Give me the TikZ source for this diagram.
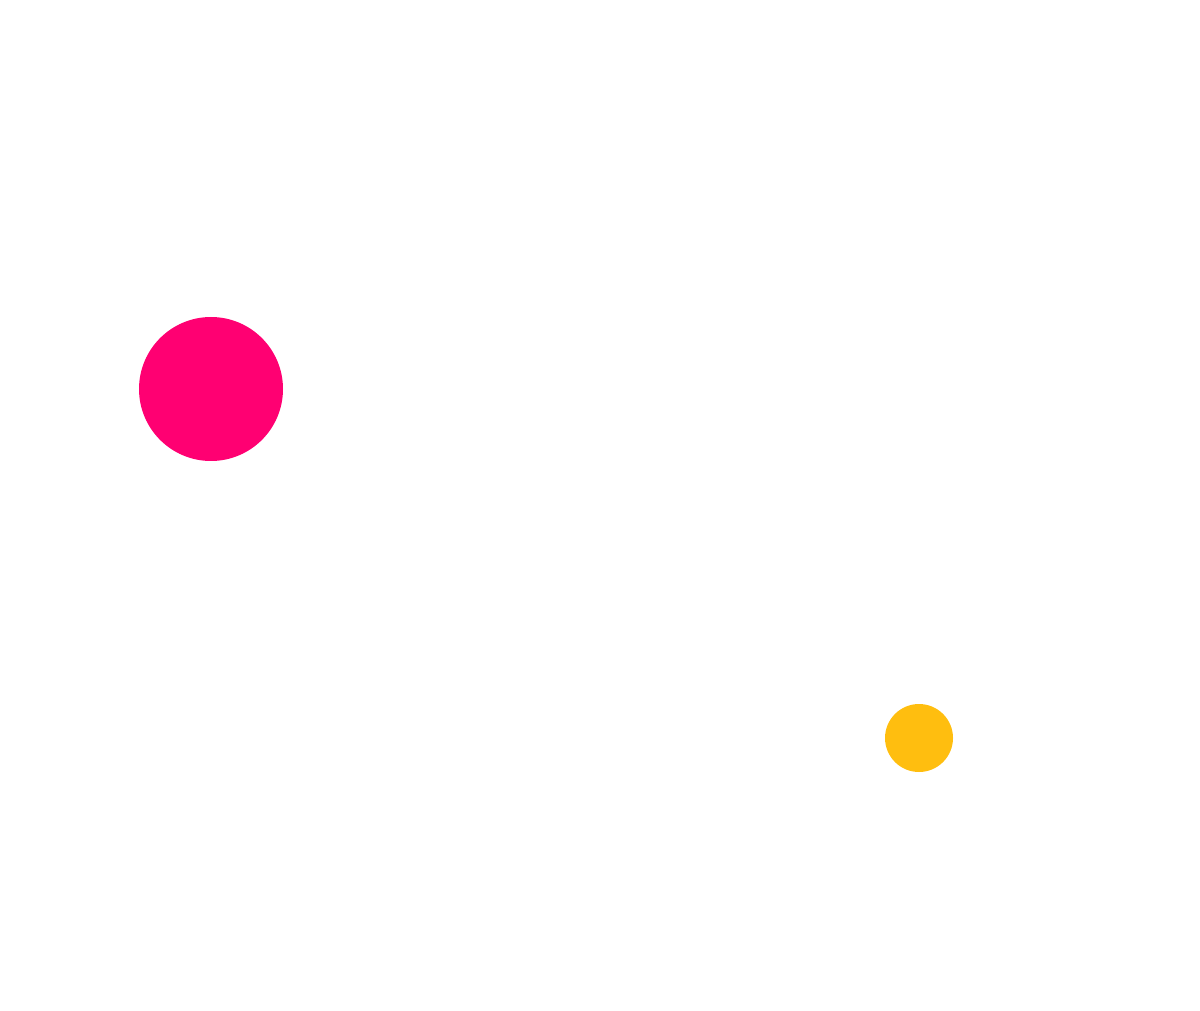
\documentclass[tikz,border=0pt]{standalone}
\usepackage{tikz}
\usetikzlibrary{positioning}
\definecolor{dotpink}{HTML}{FF0072}
\definecolor{dotyellow}{HTML}{FFBE0F}

\begin{document}
\begin{tikzpicture}
[dot/.style={circle,draw=none,inner sep=0pt}]
\useasboundingbox (0,0) rectangle (24,20.2);
\node[dot, fill=dotpink, minimum size=2.88cm] (big) at (4.22,12.42) {};
\node[dot, fill=dotyellow, minimum size=1.36cm] (small) at (18.38,5.44) {};
\end{tikzpicture}
\end{document}
